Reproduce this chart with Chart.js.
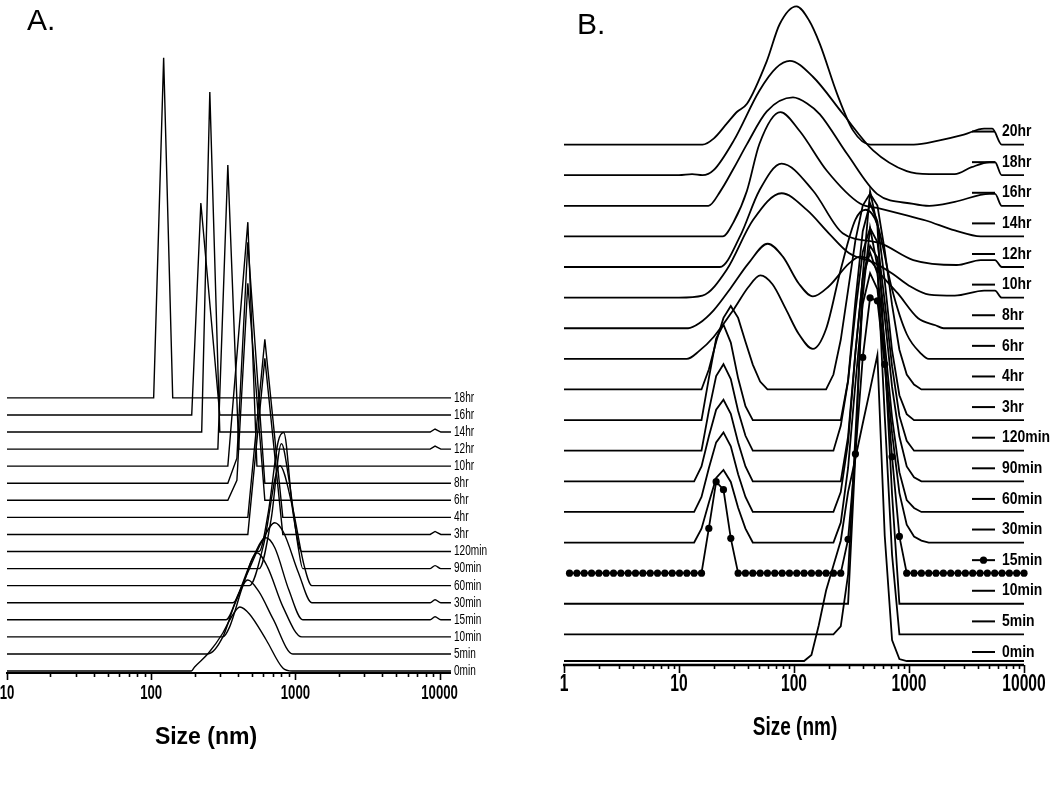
<!DOCTYPE html>
<html>
<head>
<meta charset="utf-8">
<script src="https://cdn.jsdelivr.net/npm/chart.js@4.4.1/dist/chart.umd.min.js"></script>
<style>
  body { margin: 0; background: #fff; width: 1050px; height: 797px; overflow: hidden; position: relative; }
  canvas { position: absolute; top: 0; }
  #chartA { left: 0; }
  #chartB { left: 540px; }
</style>
</head>
<body>
<canvas id="chartA" width="530" height="797"></canvas>
<canvas id="chartB" width="510" height="797"></canvas>
<script>
// ==================== Data ====================
// Panel A: size (nm) / intensity pairs, bottom trace first
const labelsA = ["0min", "5min", "10min", "15min", "30min", "60min", "90min", "120min",
                 "3hr", "4hr", "6hr", "8hr", "10hr", "12hr", "14hr", "16hr", "18hr"];
const ticksA = [10, 100, 1000, 10000];
const tickLabelsA = ["10", "100", "1000", "10000"];
const pointsA = [
  [[10,0],[190,0],[200,4],[250,18],[314,38],[360,54],[412,64],[480,57],[628,31],[818,3],[950,0],[12000,0]],
  [[10,0],[247,0],[314,17],[380,50],[468,74],[560,62],[700,35],[960,0],[12000,0]],
  [[10,0],[314,0],[350,10],[430,50],[541,84],[640,70],[820,30],[1107,0],[12000,0]],
  [[10,0],[330,0],[400,25],[500,60],[624,82],[720,72],[900,30],[1125,0],[8600,0],[9300,3],[10200,0],[12000,0]],
  [[10,0],[368,0],[450,25],[580,60],[720,80],[830,70],[1050,30],[1300,0],[8600,0],[9300,3],[10200,0],[12000,0]],
  [[10,0],[480,0],[600,40],[780,120],[950,80],[1150,20],[1300,0],[12000,0]],
  [[10,0],[560,0],[680,50],[800,125],[900,90],[1050,20],[1125,0],[8600,0],[9300,3],[10200,0],[12000,0]],
  [[10,0],[560,0],[650,40],[760,110],[830,119],[960,40],[1107,0],[12000,0]],
  [[10,0],[468,0],[614,176],[818,0],[8600,0],[9300,3],[10200,0],[12000,0]],
  [[10,0],[468,0],[614,178],[818,0],[12000,0]],
  [[10,0],[340,0],[393,20],[468,217],[614,0],[12000,0]],
  [[10,0],[340,0],[393,25],[468,241],[614,0],[12000,0]],
  [[10,0],[340,0],[468,244],[541,0],[12000,0]],
  [[10,0],[290,0],[340,284],[405,0],[8600,0],[9300,3],[10200,0],[12000,0]],
  [[10,0],[224,0],[255,340],[299,0],[8600,0],[9300,3],[10200,0],[12000,0]],
  [[10,0],[191,0],[221,212],[299,0],[12000,0]],
  [[10,0],[104,0],[122,340],[141,0],[12000,0]]
];

// Panel B
const labelsB = ["0min", "5min", "10min", "15min", "30min", "60min", "90min", "120min",
                 "3hr", "4hr", "6hr", "8hr", "10hr", "12hr", "14hr", "16hr", "18hr", "20hr"];
const ticksB = [1, 10, 100, 1000, 10000];
const tickLabelsB = ["1", "10", "100", "1000", "10000"];
// size bins of the 15min trace (drawn with markers)
const bins15 = [1.117, 1.294, 1.499, 1.736, 2.010, 2.328, 2.696, 3.122, 3.615, 4.187, 4.849, 5.615,
  6.503, 7.531, 8.721, 10.10, 11.70, 13.54, 15.69, 18.17, 21.04, 24.36, 28.21, 32.67, 37.84, 43.82,
  50.75, 58.77, 68.06, 78.82, 91.28, 105.7, 122.4, 141.8, 164.2, 190.1, 220.2, 255.0, 295.3, 342.0,
  396.1, 458.7, 531.2, 615.1, 712.4, 825.0, 955.4, 1106, 1281, 1484, 1718, 1990, 2305, 2669, 3091,
  3580, 4145, 4801, 5560, 6439, 7456, 8635, 10000];
const int15 = [0, 0, 0, 0, 0, 0, 0, 0, 0, 0, 0, 0, 0, 0, 0, 0, 0, 0, 0,
  45, 92, 84, 35,
  0, 0, 0, 0, 0, 0, 0, 0, 0, 0, 0, 0, 0, 0, 0,
  34, 120, 217, 277, 274, 210, 117, 37,
  0, 0, 0, 0, 0, 0, 0, 0, 0, 0, 0, 0, 0, 0, 0, 0, 0];
const pointsB = [
  [[1,4],[122.4,4],[141.8,10],[164.2,40],[190.1,75],[220.2,100],[255,125],[295.3,174],[342,208],[396.1,243],[458.7,277],[531.2,312],[615.1,130],[712.4,25],[825,6],[955.4,4],[10000,4]],
  [[1,0],[220.2,0],[255,8],[295.3,60],[342,200],[396.1,340],[458.7,409],[531.2,370],[615.1,220],[712.4,80],[825,0],[10000,0]],
  [[1,0],[295.3,0],[342,150],[396.1,330],[458.7,415],[531.2,380],[615.1,250],[712.4,110],[825,0],[10000,0]],
  bins15.map((s, k) => [s, int15[k]]),
  [[1,0],[13.54,0],[15.69,14],[18.17,40],[21.04,65],[24.36,73],[28.21,61],[32.67,35],[37.84,14],[43.82,0],[220.2,0],[255,20],[295.3,75],[342,160],[396.1,240],[458.7,271],[531.2,255],[615.1,185],[712.4,110],[825,50],[955.4,18],[1106,6],[1281,2],[1484,0],[10000,0]],
  [[1,0],[13.54,0],[15.69,15],[18.17,44],[21.04,70],[24.36,80],[28.21,66],[32.67,38],[37.84,15],[43.82,0],[220.2,0],[255,20],[295.3,70],[342,160],[396.1,235],[458.7,261],[531.2,240],[615.1,170],[712.4,95],[825,40],[955.4,12],[1106,4],[1281,0],[10000,0]],
  [[1,0],[13.54,0],[15.69,15],[18.17,45],[21.04,72],[24.36,82],[28.21,68],[32.67,39],[37.84,15],[43.82,0],[255,0],[295.3,45],[342,130],[396.1,205],[458.7,237],[531.2,225],[615.1,165],[712.4,95],[825,45],[955.4,15],[1106,4],[1281,0],[10000,0]],
  [[1,0],[15.69,0],[18.17,40],[21.04,75],[24.36,87],[28.21,72],[32.67,40],[37.84,15],[43.82,0],[220.2,0],[255,25],[295.3,70],[342,140],[396.1,200],[458.7,224],[531.2,210],[615.1,150],[712.4,85],[825,35],[955.4,10],[1106,0],[10000,0]],
  [[1,0],[15.69,0],[18.17,42],[21.04,82],[24.36,96],[28.21,78],[32.67,42],[37.84,14],[43.82,0],[255,0],[295.3,40],[342,120],[396.1,190],[458.7,218],[531.2,200],[615.1,140],[712.4,70],[825,25],[955.4,6],[1106,0],[10000,0]],
  [[1,0],[15.69,0],[18.17,20],[21.04,48],[24.36,72],[28.21,84],[32.67,72],[37.84,48],[43.82,25],[50.75,8],[58.77,0],[190.1,0],[220.2,15],[255,50],[295.3,100],[342,150],[396.1,185],[458.7,197],[531.2,185],[615.1,140],[712.4,85],[825,40],[955.4,15],[1106,5],[1281,0],[10000,0]],
  [[1,0],[11.7,0],[15,8],[20,22],[30,50],[40,72],[51,84],[65,75],[85,50],[110,25],[146,10],[190,30],[255,90],[342,140],[420,150],[531,135],[712,70],[955,25],[1280,5],[1484,0],[10000,0]],
  [[1,0],[12,0],[15,5],[20,18],[28,40],[40,65],[59,85],[80,72],[110,45],[146,32],[200,42],[300,65],[375,72],[460,68],[560,55],[800,35],[1200,10],[1700,3],[2000,0],[10000,0]],
  [[1,0],[10,0],[16,2],[26,28],[44,78],[78,105],[130,88],[200,65],[300,45],[500,35],[720,24],[1000,12],[1500,3],[2500,2],[4500,7],[5600,7],[6400,0],[10000,0]],
  [[1,0],[22.7,0],[34,31],[50,77],[78,104],[146,77],[265,34],[560,24],[1090,7],[2600,2],[4200,7],[5600,7],[6400,0],[10000,0]],
  [[1,0],[24,0],[30,15],[39,46],[50,93],[76,125],[112,106],[193,66],[375,33],[560,28],[900,22],[1400,16],[2500,6],[4200,0],[10000,0]],
  [[1,0],[18,0],[23,15],[30,38],[39,62],[58,95],[98,109],[130,103],[168,92],[290,52],[527,12],[1090,2],[1500,0],[2500,4],[5000,12],[5600,12],[6400,0],[10000,0]],
  [[1,0],[10,0],[13,1],[16,0],[20,5],[30,35],[50,85],[70,108],[92,115],[146,99],[265,62],[487,25],[955,4],[1500,1],[2500,1],[3500,8],[5000,13],[5600,13],[6400,0],[10000,0]],
  [[1,0],[16,0],[20,6],[26,21],[32,33],[39,41],[58,84],[75,121],[105,139],[135,125],[168,101],[237,51],[327,14],[460,0],[1100,0],[1800,4],[3000,10],[4500,16],[5300,16],[6400,0],[10000,0]]
];

// ==================== Layout ====================
const stepA = 17.07;   // vertical offset between traces, panel A
const stepB = 30.8;    // panel B
const sans = "'Liberation Sans', Arial, sans-serif";

function buildSets(points, labels, step, width, smooth, marked) {
  return points.map((pts, i) => ({
    label: labels[i],
    data: pts.map(([s, v]) => ({ x: s, y: i * step + v })),
    showLine: true,
    borderColor: "#000",
    borderWidth: width,
    pointRadius: labels[i] === marked ? 3.6 : 0,
    pointBackgroundColor: "#000",
    pointBorderWidth: 0,
    cubicInterpolationMode: smooth(i) ? "monotone" : "default",
    tension: 0,
    clip: false
  }));
}

// text squeezed horizontally, to imitate the condensed face of the original
function narrowText(ctx, text, x, y, font, sx, align) {
  ctx.save();
  ctx.font = font;
  ctx.textAlign = align;
  ctx.textBaseline = "middle";
  ctx.translate(x, y);
  ctx.scale(sx, 1);
  ctx.fillText(text, 0, 0);
  ctx.restore();
}

// draws axis, ticks, titles and trace labels from the chart's own scales
const panelAxis = {
  id: "panelAxis",
  afterDraw(chart, args, o) {
    const { ctx, chartArea: area, scales: { x, y } } = chart;
    const yAx = area.bottom;
    ctx.save();
    ctx.strokeStyle = "#000";
    ctx.fillStyle = "#000";

    ctx.lineWidth = o.axisWidth;
    ctx.beginPath();
    ctx.moveTo(x.getPixelForValue(o.ticks[0]) - 1, yAx);
    ctx.lineTo(x.getPixelForValue(o.axisEnd), yAx);
    ctx.stroke();

    ctx.lineWidth = 1.6;
    o.ticks.forEach((t, k) => {
      const px = Math.round(x.getPixelForValue(t)) + 0.5;
      ctx.beginPath(); ctx.moveTo(px, yAx); ctx.lineTo(px, yAx + o.majorLen); ctx.stroke();
      if (k < o.ticks.length - 1) {
        for (let m = 2; m < 10; m++) {
          const mx = Math.round(x.getPixelForValue(t * m)) + 0.5;
          ctx.beginPath(); ctx.moveTo(mx, yAx); ctx.lineTo(mx, yAx + o.minorLen); ctx.stroke();
        }
      }
    });

    o.ticks.forEach((t, k) =>
      narrowText(ctx, o.tickText[k], x.getPixelForValue(t), o.tickLabelY, o.tickFont, o.tickScale, "center"));

    narrowText(ctx, o.title, o.titleX, o.titleY, o.titleFont, o.titleScale, "center");
    narrowText(ctx, o.letter, o.letterX, o.letterY, o.letterFont, 1, "left");

    o.labels.forEach((lab, i) => {
      const ly = y.getPixelForValue(i * o.step) + o.labelDy;
      narrowText(ctx, lab, o.labelX, ly, o.labelFont, o.labelScale, "left");
      if (o.legendLines) {
        ctx.lineWidth = 2;
        ctx.beginPath(); ctx.moveTo(o.markerX0, ly); ctx.lineTo(o.markerX1, ly); ctx.stroke();
        if (lab === o.marked) {
          ctx.beginPath();
          ctx.arc((o.markerX0 + o.markerX1) / 2, ly, 3.6, 0, Math.PI * 2);
          ctx.fill();
        }
      }
    });
    ctx.restore();
  }
};

function baseOptions(pad, xMin, xMax, yMin, yMax, axisOpts) {
  return {
    responsive: false,
    animation: false,
    events: [],
    layout: { padding: pad },
    scales: {
      x: { type: "logarithmic", min: xMin, max: xMax, display: false },
      y: { type: "linear", min: yMin, max: yMax, display: false }
    },
    plugins: { legend: { display: false }, tooltip: { enabled: false }, panelAxis: axisOpts }
  };
}

// ==================== Panel A ====================
new Chart(document.getElementById("chartA"), {
  type: "scatter",
  data: { datasets: buildSets(pointsA, labelsA, stepA, 1.4, i => i < 8, null) },
  options: baseOptions({ left: 7, top: 0, right: 79, bottom: 124 }, 10, 12000, -2, 671, {
    ticks: ticksA, tickText: tickLabelsA, axisEnd: 12000, axisWidth: 2,
    majorLen: 7, minorLen: 4, tickFont: "bold 20px " + sans, tickScale: 0.66, tickLabelY: 693,
    title: "Size (nm)", titleFont: "bold 23px " + sans, titleScale: 1, titleX: 206, titleY: 738,
    letter: "A.", letterFont: "30px " + sans, letterX: 27, letterY: 22,
    labels: labelsA, step: stepA, labelX: 454, labelDy: 0, labelFont: "14px " + sans, labelScale: 0.72,
    legendLines: false
  }),
  plugins: [panelAxis]
});

// ==================== Panel B ====================
new Chart(document.getElementById("chartB"), {
  type: "scatter",
  data: { datasets: buildSets(pointsB, labelsB, stepB, 1.8, i => i >= 10, "15min") },
  options: baseOptions({ left: 24, top: 0, right: 26, bottom: 132 }, 1, 10000, 0, 665, {
    ticks: ticksB, tickText: tickLabelsB, axisEnd: 10000, axisWidth: 2.5,
    majorLen: 8, minorLen: 4, tickFont: "bold 23px " + sans, tickScale: 0.68, tickLabelY: 685,
    title: "Size (nm)", titleFont: "bold 25px " + sans, titleScale: 0.76, titleX: 255, titleY: 728,
    letter: "B.", letterFont: "30px " + sans, letterX: 37, letterY: 26,
    labels: labelsB, step: stepB, labelX: 462, labelDy: -13, labelFont: "bold 17px " + sans, labelScale: 0.82,
    legendLines: true, markerX0: 432, markerX1: 455, marked: "15min"
  }),
  plugins: [panelAxis]
});
</script>
</body>
</html>
